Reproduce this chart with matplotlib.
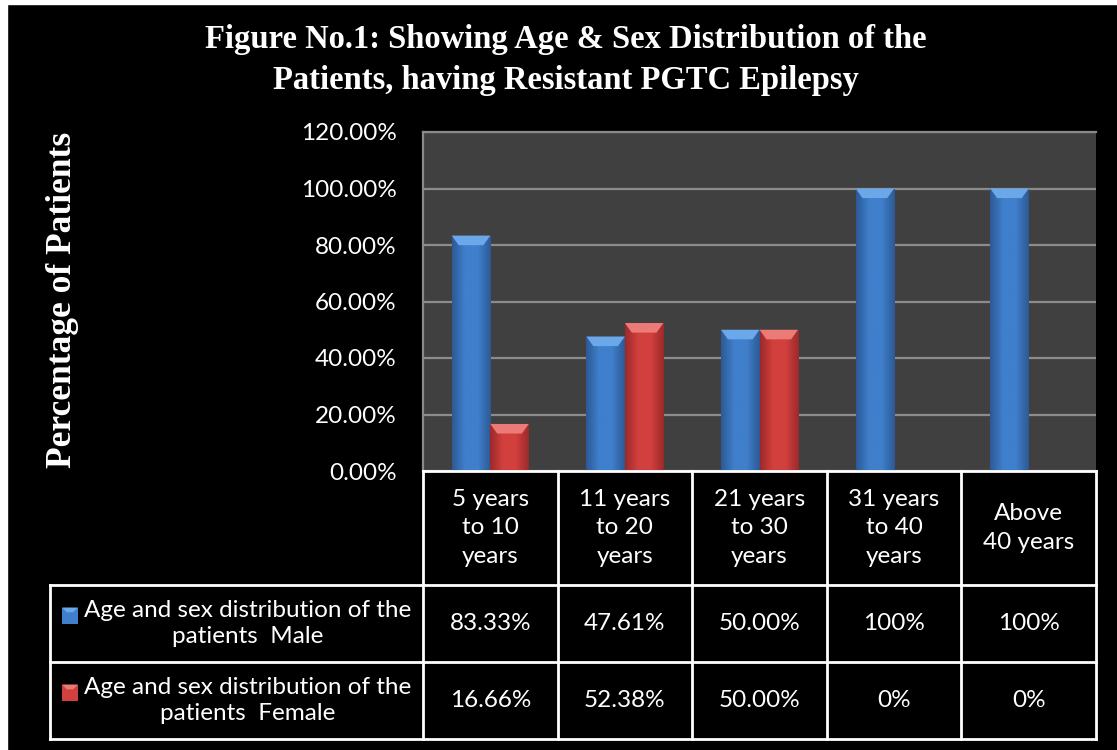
import matplotlib
matplotlib.use("Agg")
import matplotlib.pyplot as plt
import numpy as np
from matplotlib.patches import Rectangle, Polygon
from matplotlib import transforms
from matplotlib.colors import LinearSegmentedColormap

categories = ["5 years\nto 10\nyears", "11 years\nto 20\nyears", "21 years\nto 30\nyears",
              "31 years\nto 40\nyears", "Above\n40 years"]
male = [83.33, 47.61, 50.00, 100.0, 100.0]
female = [16.66, 52.38, 50.00, 0.0, 0.0]
male_labels = ["83.33%", "47.61%", "50.00%", "100%", "100%"]
female_labels = ["16.66%", "52.38%", "50.00%", "0%", "0%"]
series_names = ["Age and sex distribution of the\npatients  Male",
                "Age and sex distribution of the\npatients  Female"]
yticks = [0, 20, 40, 60, 80, 100, 120]
title = "Figure No.1: Showing Age & Sex Distribution of the\nPatients, having Resistant PGTC Epilepsy"
ylabel = "Percentage of Patients"

W, H = 1117, 750
fig = plt.figure(figsize=(W / 100, H / 100), dpi=100, facecolor="black")

def fx(px):
    return px / W

def fy(py):
    return 1 - py / H

# white strips at image edge
fig.patches.append(Rectangle((0, fy(4)), 1, 4 / H, transform=fig.transFigure, color="white", zorder=0))
fig.patches.append(Rectangle((0, 0), fx(7), 1, transform=fig.transFigure, color="white", zorder=0))

ax_l, ax_r, ax_t, ax_b = 423, 1096, 132, 471
ax = fig.add_axes([fx(ax_l), fy(ax_b), fx(ax_r - ax_l), (ax_b - ax_t) / H])
ax.set_facecolor("#404040")
for s in ["right", "bottom"]:
    ax.spines[s].set_visible(False)
for s in ["left", "top"]:
    ax.spines[s].set_color("#8a8a8a")
    ax.spines[s].set_linewidth(1.6)
ax.set_yticks(yticks)
ax.set_yticklabels([f"{v:.2f}%" for v in yticks])
ax.tick_params(axis="y", length=0, pad=19, labelcolor="white", labelsize=17.5)
for lab in ax.get_yticklabels():
    lab.set_fontfamily("Lato")
ax.set_xticks([])
ax.grid(axis="y", color="#8c8c8c", linewidth=1.6)
ax.set_axisbelow(True)

bw = 0.286
blue = dict(edge="#2d5a96", mid="#3f7fcc", top="#6aa8ea")
red = dict(edge="#9c2a2a", mid="#d2403e", top="#ec7a76")

def make_cmap(c):
    return LinearSegmentedColormap.from_list("g", [c["edge"], c["mid"], c["mid"], c["edge"]])

x = np.arange(len(categories))
for vals, off, col in [(male, -bw / 2, blue), (female, bw / 2, red)]:
    bars = ax.bar(x + off, vals, width=bw, color=col["mid"], zorder=3, linewidth=0)
    cm = make_cmap(col)
    for b, v in zip(bars, vals):
        if v <= 0:
            continue
        x0, w = b.get_x(), b.get_width()
        grad = np.linspace(0, 1, 64).reshape(1, -1)
        im = ax.imshow(grad, extent=(x0, x0 + w, 0, v), cmap=cm, aspect="auto", zorder=4)
        im.set_clip_path(b)
        bev = 3.4
        inset = w * 0.18
        ax.add_patch(Polygon([(x0, v), (x0 + w, v), (x0 + w - inset, v - bev), (x0 + inset, v - bev)],
                             closed=True, facecolor=col["top"], edgecolor="none", zorder=5))
ax.set_xlim(-0.5, len(categories) - 0.5)
ax.set_ylim(0, 120)

# title and y label
fig.text(fx(566), fy(60), title, ha="center", va="center", color="white",
         fontsize=23.5, fontweight="bold", family="Liberation Serif", linespacing=1.38)
fig.text(fx(63), fy(300), ylabel, ha="center", va="center", rotation=90, color="white",
         fontsize=25.5, fontweight="bold", family="Liberation Serif")

# data table
tr = transforms.blended_transform_factory(ax.transData, fig.transFigure)
row_y = [471, 585, 662, 739]
lab_l = 50
lw = 2
tfont = dict(color="white", fontsize=17.5, family="Lato", ha="center", va="center")
n = len(categories)
fig.add_artist(plt.Line2D([-0.5, n - 0.5], [fy(row_y[0])] * 2, transform=tr, color="white", lw=lw))
for yy in row_y[1:]:
    fig.add_artist(plt.Line2D([fx(lab_l), fx(ax_r)], [fy(yy)] * 2, transform=fig.transFigure, color="white", lw=lw))
for i in range(n + 1):
    fig.add_artist(plt.Line2D([i - 0.5, i - 0.5], [fy(row_y[0]), fy(row_y[3])], transform=tr, color="white", lw=lw))
fig.add_artist(plt.Line2D([fx(lab_l)] * 2, [fy(row_y[1]), fy(row_y[3])], transform=fig.transFigure, color="white", lw=lw))

for i, c in enumerate(categories):
    fig.text(i, fy((row_y[0] + row_y[1]) / 2), c, transform=tr, linespacing=1.45, **tfont)
    fig.text(i, fy((row_y[1] + row_y[2]) / 2), male_labels[i], transform=tr, **tfont)
    fig.text(i, fy((row_y[2] + row_y[3]) / 2), female_labels[i], transform=tr, **tfont)

for r, (name, col) in enumerate(zip(series_names, [blue, red])):
    cy = (row_y[r + 1] + row_y[r + 2]) / 2
    fig.text(fx(248), fy(cy), name, transform=fig.transFigure, linespacing=1.32, **tfont)
    my = cy - 8
    s = 16
    fig.patches.append(Rectangle((fx(62), fy(my + s / 2)), fx(s), s / H, transform=fig.transFigure,
                                 facecolor=col["mid"], edgecolor="none", zorder=3))
    fig.patches.append(Polygon([(fx(62), fy(my - s / 2)), (fx(62 + s), fy(my - s / 2)),
                                (fx(62 + s * 0.7), fy(my - s * 0.2)), (fx(62 + s * 0.3), fy(my - s * 0.2))],
                               closed=True, transform=fig.transFigure,
                               facecolor=col["top"], edgecolor="none", zorder=4))

fig.savefig("out.png", dpi=100, facecolor="black")
